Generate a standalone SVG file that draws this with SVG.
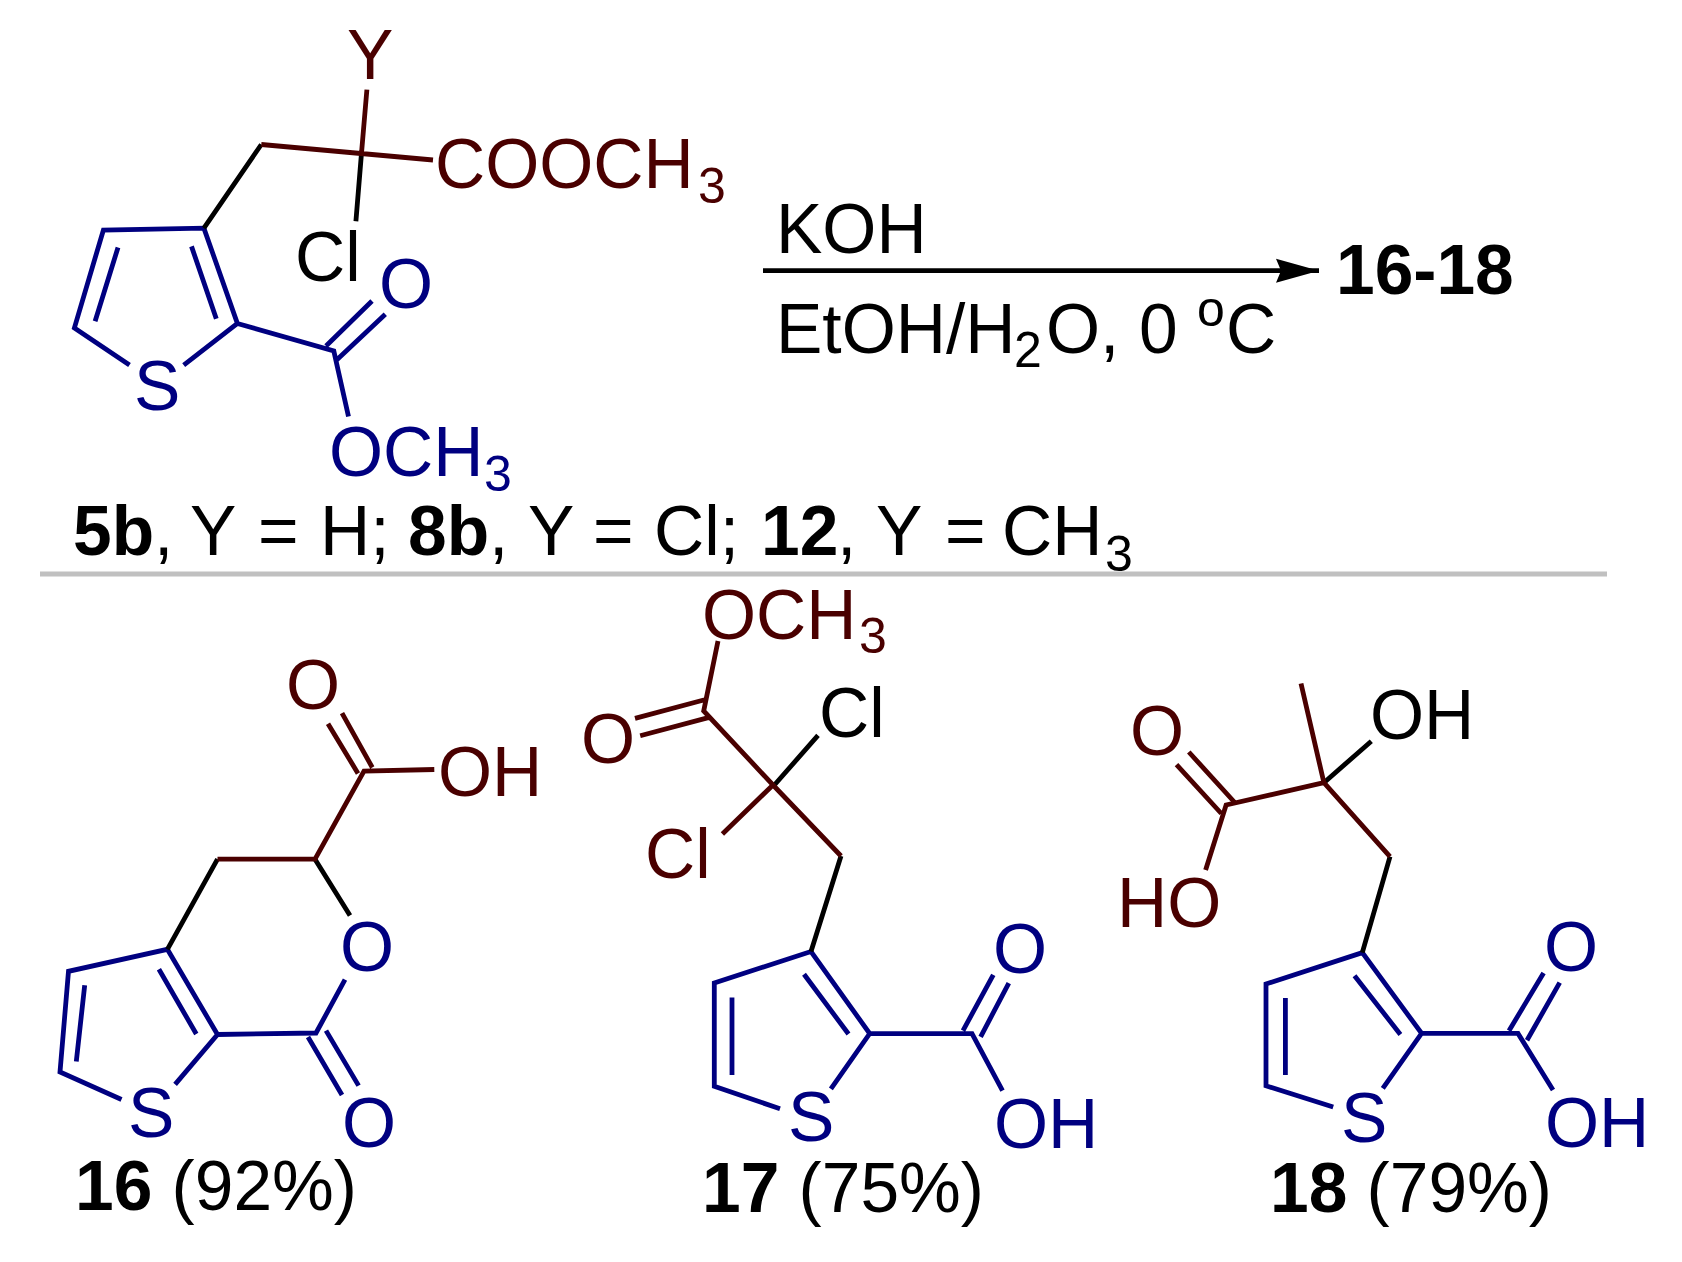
<svg xmlns="http://www.w3.org/2000/svg" width="1682" height="1262" viewBox="0 0 1682 1262">
<style>
text{font-family:"Liberation Sans",Arial,sans-serif;font-size:69.5px}
.n{fill:#000080}.r{fill:#4a0000}.k{fill:#000}
.s{font-size:50px}.b{font-weight:bold}
path{fill:none;stroke-width:4.8;stroke-linejoin:miter}
.pn{stroke:#000080}.pr{stroke:#4a0000}.pk{stroke:#000}
</style>
<defs>
<marker id="head" markerUnits="userSpaceOnUse" markerWidth="44" markerHeight="26" refX="43" refY="13" orient="auto"><path d="M0 1L43 13L0 25L5 13Z" style="fill:#000;stroke:none"/></marker>
</defs>
<rect width="1682" height="1262" fill="#fff"/>
<g id="separator"><rect x="40" y="571.500" width="1567" height="5" fill="#c0c0c0"/></g>

<g id="substrate">
<path class="pn" d="M129.500 365.100L74.400 327.900L103.400 230L203.900 228.100L237.400 323.500L183.700 365.100M118 247.500L95.100 321.300M191.500 246.400L216.300 318.700M237.400 323.500L333.800 351L348.500 416.500M326 346L372 301M336.100 360.600L385.300 314.200"/>
<path class="pk" d="M203.900 228.100L261.300 144.500M361.400 154.300L355.900 221.200"/>
<path class="pr" d="M261.300 144.500L433 160M366.900 89.600L361.400 154.300"/>
<text class="r" x="347" y="79">Y</text>
<text class="r" x="435" y="188">COOCH</text><text class="r s" x="698" y="203">3</text>
<text class="k" x="295" y="281">Cl</text>
<text class="n" x="379" y="308">O</text>
<text class="n" x="134" y="410">S</text>
<text class="n" x="329" y="476">OCH</text><text class="n s" x="484" y="491">3</text>
</g>

<g id="substrate-label">
<text class="k b" x="73" y="555">5b</text>
<text class="k" x="154" y="555">,</text>
<text class="k" x="190" y="555">Y</text><text class="k" x="258" y="555">=</text><text class="k" x="320" y="555">H;</text>
<text class="k b" x="408" y="555">8b</text>
<text class="k" x="489" y="555">,</text>
<text class="k" x="528" y="555">Y</text><text class="k" x="593" y="555">=</text><text class="k" x="654" y="555">Cl;</text>
<text class="k b" x="761" y="555">12</text>
<text class="k" x="837" y="555">,</text>
<text class="k" x="876" y="555">Y</text><text class="k" x="945" y="555">=</text><text class="k" x="1002" y="555">CH</text><text class="k s" x="1105" y="571">3</text>
</g>

<g id="connectors"><path class="pk" d="M763 270.700L1319 270.700" marker-end="url(#head)"/></g>

<g id="reagents">
<text class="k" x="776" y="253">KOH</text>
<text class="k" x="776" y="353">EtOH/H</text><text class="k s" x="1014" y="367">2</text><text class="k" x="1046" y="353">O,</text><text class="k" x="1139" y="353">0</text><text class="k s" x="1197" y="326">o</text><text class="k" x="1226" y="353">C</text>
</g>
<g id="products-label"><text class="k b" x="1336" y="294">16-18</text></g>

<g id="compound-16">
<path class="pn" d="M121.500 1099.500L60 1072L68.500 971.300L167.400 949.300L217.500 1034.500L175.100 1084.400M84.700 985.200L76.300 1061.400M158.900 969.200L196.300 1034M217.500 1034.500L316 1033L345 979.700M308 1037L342 1095M326 1030.600L358.600 1085.600"/>
<path class="pk" d="M167.400 949.300L217.500 859.200M315 859.200L350 915.600"/>
<path class="pr" d="M217.500 859.200L315 859.200L364 771L434.300 769.500M328 723.800L358 773.400M342 713.200L372.300 767.500"/>
<text class="r" x="286" y="709">O</text>
<text class="r" x="438" y="796">OH</text>
<text class="n" x="340" y="971">O</text>
<text class="n" x="342" y="1147">O</text>
<text class="n" x="128" y="1137">S</text>
<text class="k" x="75" y="1210"><tspan class="b">16</tspan> (92%)</text>
</g>

<g id="compound-17">
<path class="pn" d="M780 1108.800L714.300 1086.300L714.300 983L811 951.500L869.700 1033.600L830.900 1088.900M732 997.500L732 1075M804 974.300L848.500 1034M869.700 1033.600L972 1033.600L1002.500 1090.700M963 1030.600L993.300 974.800M980.600 1036.800L1008.800 983.200"/>
<path class="pk" d="M811 951.500L841 856M774.400 785L818 735.400"/>
<path class="pr" d="M841 856L773 785L703.700 711L718 641M773 785L722.400 834M704.700 699.800L635 718.400M708.300 717.600L640.200 735.800"/>
<text class="r" x="702" y="639">OCH</text><text class="r s" x="859" y="653">3</text>
<text class="r" x="581" y="763">O</text>
<text class="k" x="819" y="737">Cl</text>
<text class="r" x="645" y="878">Cl</text>
<text class="n" x="993" y="973">O</text>
<text class="n" x="994" y="1148">OH</text>
<text class="n" x="788" y="1141">S</text>
<text class="k" x="702" y="1212"><tspan class="b">17</tspan> (75%)</text>
</g>

<g id="compound-18">
<path class="pn" d="M1333.200 1107L1266 1085.800L1266 984L1362.300 952.600L1421.600 1033.400L1382.800 1088.400M1285.400 998L1285.400 1075M1354.500 975.800L1400.400 1034.500M1421.600 1033.400L1518 1033.400L1553 1090M1509 1030.700L1543.600 973M1527 1040.300L1559.700 982.600"/>
<path class="pk" d="M1362.300 952.600L1390 856.700M1323.900 782.700L1371.300 741.200"/>
<path class="pr" d="M1390 856.700L1323.900 782.700L1301 683.500M1323.900 782.700L1226.100 805L1205.600 870M1234.300 802L1188.800 752M1221.300 813.500L1176.500 764.600"/>
<text class="r" x="1130" y="755">O</text>
<text class="r" x="1117" y="927">HO</text>
<text class="k" x="1370" y="739">OH</text>
<text class="n" x="1544" y="971">O</text>
<text class="n" x="1545" y="1147">OH</text>
<text class="n" x="1341" y="1142">S</text>
<text class="k" x="1270" y="1212"><tspan class="b">18</tspan> (79%)</text>
</g>
</svg>
